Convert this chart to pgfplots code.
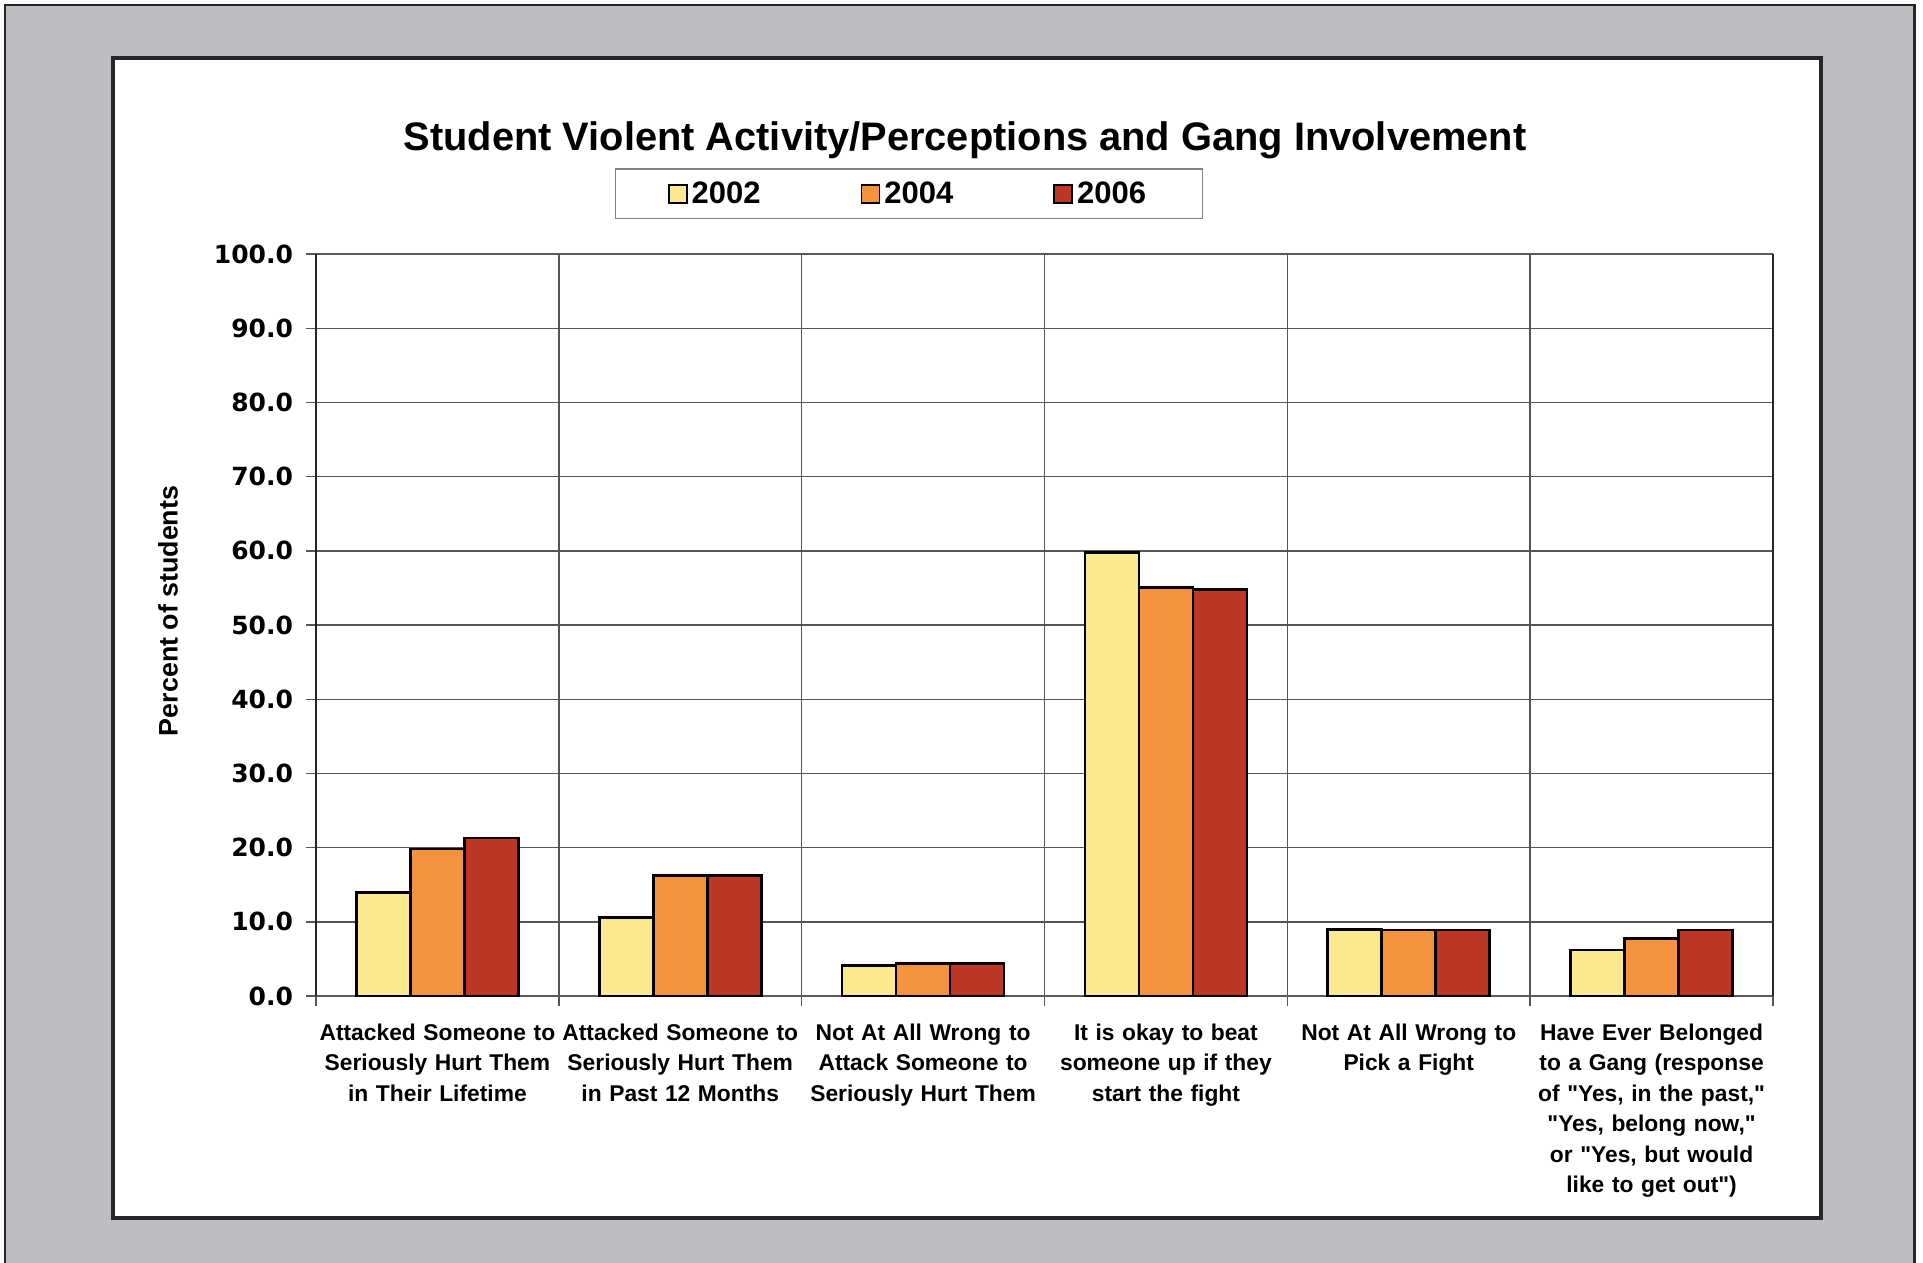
\documentclass[border=0pt]{standalone}
\usepackage{pgfplots}
\pgfplotsset{compat=1.18}
\usepackage{fontspec}
\setmainfont{Liberation Sans}[Ligatures=TeXOff]
\newfontfamily\tickfont{DejaVu Sans}

\definecolor{cA}{HTML}{FAE98F}
\definecolor{cB}{HTML}{F4923E}
\definecolor{cC}{HTML}{BC3726}
\definecolor{bggray}{HTML}{BDBEC1}
\definecolor{gridc}{HTML}{555555}

\pgfplotsset{
  mybar/.style={fill=#1, draw=black, line width=1.4pt,
    legend image code/.code={\draw[##1, line width=0.9pt] (0pt,-4.5pt) rectangle (9pt,4.5pt);}},
}

\begin{document}
\begin{tikzpicture}
\path[use as bounding box] (0,0) rectangle (961.5pt,-631.5pt);
\fill[white] (0,0) rectangle (961.5pt,-631.5pt);
\filldraw[fill=bggray, draw=black!85, line width=1.2pt] (2.5pt,-2.5pt) rectangle (957.3pt,-640pt);
\filldraw[fill=white, draw=black!85, line width=2pt] (56.5pt,-29pt) rectangle (910.5pt,-609pt);
\node[font=\bfseries\fontsize{19.9}{23}\selectfont] at (482.5pt,-70pt)
  {Student Violent Activity/Perceptions and Gang Involvement};

\begin{axis}[
  at={(158pt,-498pt)}, anchor=south west,
  scale only axis, width=728.5pt, height=371pt,
  ybar=0pt, bar width=27pt,
  xmin=-0.5, xmax=5.5, ymin=0, ymax=100,
  xtick={-0.5,0.5,...,5.5}, xticklabels={},
  ytick={0,10,...,100},
  xtick pos=bottom, ytick pos=left,
  xmajorgrids, ymajorgrids,
  grid style={gridc, line width=0.7pt},
  tick align=outside, major tick length=5pt,
  tick style={gridc, line width=0.7pt},
  separate axis lines,
  x axis line style={draw=gray!70!black, line width=1pt},
  y axis line style={draw=black!85, line width=1.2pt},
  extra x ticks={0,1,2,3,4,5},
  extra x tick style={major tick length=0pt, grid=none},
  extra x tick labels={
    {Attacked Someone to\\Seriously Hurt Them\\in Their Lifetime},
    {Attacked Someone to\\Seriously Hurt Them\\in Past 12 Months},
    {Not At All Wrong to\\Attack Someone to\\Seriously Hurt Them},
    {It is okay to beat\\someone up if they\\start the fight},
    {Not At All Wrong to\\Pick a Fight},
    {Have Ever Belonged\\to a Gang (response\\of "Yes, in the past,"\\"Yes, belong now,"\\or "Yes, but would\\like to get out")}},
  xticklabel style={font=\bfseries\fontsize{11.4}{15.25}\selectfont, align=center,
    text width=130pt, anchor=north, yshift=-10.3pt},
  yticklabel style={font=\tickfont\bfseries\fontsize{12.5}{15}\selectfont, xshift=-3pt},
  ylabel={Percent of students},
  ylabel style={font=\bfseries\fontsize{13.4}{16}\selectfont,
    at={(axis description cs:-0.1016,0.519)}, anchor=center},
  legend columns=3,
  legend style={at={(0.407,1)}, anchor=south, yshift=17.5pt, draw=gray, line width=0.6pt,
    font=\bfseries\fontsize{15.5}{18}\selectfont, inner xsep=26pt, inner ysep=4.2pt,
    /tikz/every even column/.append style={column sep=48pt}},
  /pgf/number format/fixed, /pgf/number format/fixed zerofill,
  /pgf/number format/precision=1, /pgf/number format/assume math mode=true,
]
\addplot[mybar=cA] coordinates {(0,13.9) (1,10.6) (2,4.1) (3,59.8) (4,9.0) (5,6.2)};
\addplot[mybar=cB] coordinates {(0,19.8) (1,16.2) (2,4.4) (3,55.1) (4,8.9) (5,7.7)};
\addplot[mybar=cC] coordinates {(0,21.3) (1,16.2) (2,4.4) (3,54.8) (4,8.9) (5,8.9)};
\legend{2002,2004,2006}
\end{axis}
\end{tikzpicture}
\end{document}
